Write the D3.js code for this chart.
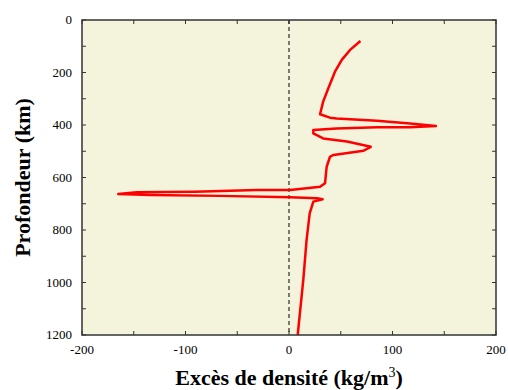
<!DOCTYPE html>
<html>
<head>
<meta charset="utf-8">
<script src="https://cdn.jsdelivr.net/npm/d3@7"></script>
<style>
  body { margin: 0; background: #fff; }
</style>
</head>
<body>
<div id="my_dataviz"></div>
<script>
// density excess (kg/m3) and depth (km), read along the profile
var excess = [69, 59, 51, 44.4, 38, 33, 30, 39.6, 46, 85, 117, 142, 117, 85, 46, 23.5, 23.5, 33, 56, 79, 72, 43, 39.6, 36.4, 34.8, 30, 17, 1,
              -31, -91, -147, -165, -134, -67, 1, 27, 32.5, 23.5, 20, 17, 13.8, 8.4];
var depth = [80, 114, 152, 197, 260, 311, 359, 372, 375, 384, 394, 404, 409, 409, 413, 419, 432, 451, 463, 483, 498, 514, 521, 559, 622, 635, 641, 648,
             648, 654, 656, 663, 667, 670, 675, 679, 683, 692, 737, 838, 990, 1200];
var xTicks = [-200, -100, 0, 100, 200];
var yTicks = [0, 200, 400, 600, 800, 1000, 1200];

var serif = "'Liberation Serif', 'Times New Roman', 'DejaVu Serif', serif";

var margin = {top: 20, right: 12, bottom: 55, left: 82},
    width = 496 - margin.left,
    height = 335 - margin.top;

var svg = d3.select("#my_dataviz")
    .append("svg")
    .attr("width", 508)
    .attr("height", 390)
    .attr("font-family", serif)
    .append("g")
    .attr("transform", "translate(" + margin.left + "," + margin.top + ")");

var x = d3.scaleLinear().domain([-200, 200]).range([0, width]);
var y = d3.scaleLinear().domain([0, 1200]).range([0, height]);

// background
svg.append("rect")
    .attr("width", width)
    .attr("height", height)
    .style("fill", "#f4f3dc");

// ticks on all four sides, pointing inwards
var minorX = d3.range(-200, 201, 50), minorY = d3.range(0, 1201, 100);
svg.selectAll("xt").data(minorX).enter().append("line")
    .attr("x1", function(d){ return x(d) }).attr("x2", function(d){ return x(d) })
    .attr("y1", height).attr("y2", height - 4)
    .attr("stroke", "#333");
svg.selectAll("xtt").data(minorX).enter().append("line")
    .attr("x1", function(d){ return x(d) }).attr("x2", function(d){ return x(d) })
    .attr("y1", 0).attr("y2", 4)
    .attr("stroke", "#333");
svg.selectAll("yt").data(minorY).enter().append("line")
    .attr("y1", function(d){ return y(d) }).attr("y2", function(d){ return y(d) })
    .attr("x1", 0).attr("x2", 4)
    .attr("stroke", "#333");
svg.selectAll("ytr").data(minorY).enter().append("line")
    .attr("y1", function(d){ return y(d) }).attr("y2", function(d){ return y(d) })
    .attr("x1", width).attr("x2", width - 4)
    .attr("stroke", "#333");

// tick labels
svg.selectAll("xl").data(xTicks).enter().append("text")
    .attr("x", function(d){ return x(d) })
    .attr("y", height + 19)
    .attr("text-anchor", "middle")
    .style("font-family", serif)
    .style("font-size", "13px")
    .text(function(d){ return d });
svg.selectAll("yl").data(yTicks).enter().append("text")
    .attr("x", -10)
    .attr("y", function(d){ return y(d) + 4 })
    .attr("text-anchor", "end")
    .style("font-family", serif)
    .style("font-size", "13px")
    .text(function(d){ return d });

// zero line
svg.append("line")
    .attr("x1", x(0)).attr("x2", x(0))
    .attr("y1", 0).attr("y2", height)
    .attr("stroke", "#000")
    .attr("stroke-dasharray", "4,3");

// profile
var pts = excess.map(function(v, i){ return [v, depth[i]] });
svg.append("path")
    .datum(pts)
    .attr("d", d3.line().x(function(d){ return x(d[0]) }).y(function(d){ return y(d[1]) }))
    .style("fill", "none")
    .attr("stroke", "#ff0000")
    .attr("stroke-width", 2.5)
    .attr("stroke-linejoin", "round");

// frame
svg.append("rect")
    .attr("width", width)
    .attr("height", height)
    .style("fill", "none")
    .attr("stroke", "#333")
    .attr("stroke-width", 1.5);

// axis titles
var xt = svg.append("text")
    .attr("x", width / 2)
    .attr("y", height + 50)
    .attr("text-anchor", "middle")
    .style("font-family", serif)
    .style("font-size", "22px")
    .style("font-weight", "bold")
    .text("Excès de densité (kg/m");
xt.append("tspan").attr("dy", -8).style("font-size", "14px").style("font-weight", "normal").text("3");
xt.append("tspan").attr("dy", 8).text(")");

svg.append("text")
    .attr("transform", "translate(" + (-52) + "," + (height / 2) + ") rotate(-90)")
    .attr("text-anchor", "middle")
    .style("font-family", serif)
    .style("font-size", "22px")
    .style("font-weight", "bold")
    .text("Profondeur (km)");
</script>
</body>
</html>
